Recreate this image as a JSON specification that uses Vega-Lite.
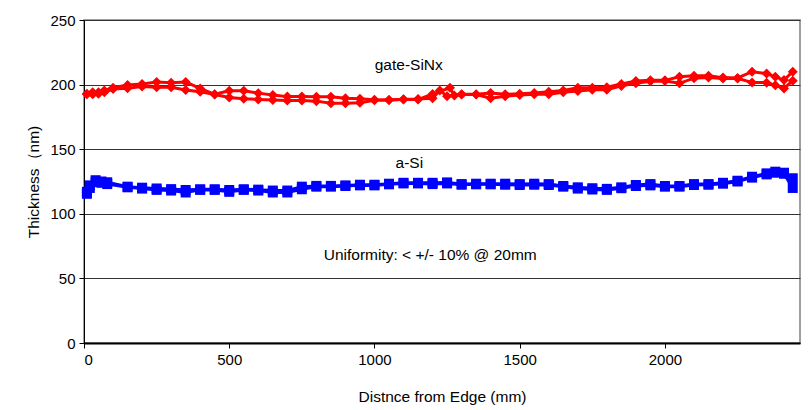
{
  "$schema": "https://vega.github.io/schema/vega-lite/v6.json",
  "width": 716,
  "height": 323,
  "autosize": "none",
  "padding": {"left": 84, "top": 20, "right": 11, "bottom": 67},
  "background": "white",
  "config": {
    "font": "Liberation Sans",
    "view": {"stroke": "#808080", "strokeWidth": 1.5},
    "axis": {"labelFont": "Liberation Sans", "titleFont": "Liberation Sans", "labelColor": "#000", "titleColor": "#000", "titleFontWeight": "normal", "labelFontSize": 15, "titleFontSize": 15.5, "domainColor": "#000", "tickColor": "#000"}
  },
  "datasets": {
    "pts": [
      {"x": 10, "y": 193, "s": "R1"}, {"x": 30, "y": 194, "s": "R1"}, {"x": 50, "y": 194, "s": "R1"}, {"x": 70, "y": 195.5, "s": "R1"}, {"x": 100, "y": 197.5, "s": "R1"},
      {"x": 150, "y": 199.7, "s": "R1"}, {"x": 200, "y": 200.5, "s": "R1"}, {"x": 250, "y": 202, "s": "R1"}, {"x": 300, "y": 201.5, "s": "R1"}, {"x": 350, "y": 202, "s": "R1"},
      {"x": 400, "y": 197, "s": "R1"}, {"x": 450, "y": 192.5, "s": "R1"}, {"x": 500, "y": 195.3, "s": "R1"}, {"x": 550, "y": 195.3, "s": "R1"}, {"x": 600, "y": 193.4, "s": "R1"},
      {"x": 650, "y": 192, "s": "R1"}, {"x": 700, "y": 190.7, "s": "R1"}, {"x": 750, "y": 190.7, "s": "R1"}, {"x": 800, "y": 190.5, "s": "R1"}, {"x": 850, "y": 190.5, "s": "R1"},
      {"x": 900, "y": 189.5, "s": "R1"}, {"x": 950, "y": 189, "s": "R1"}, {"x": 1000, "y": 188.2, "s": "R1"}, {"x": 1050, "y": 188, "s": "R1"}, {"x": 1100, "y": 188.6, "s": "R1"},
      {"x": 1150, "y": 188.8, "s": "R1"}, {"x": 1200, "y": 189.5, "s": "R1"}, {"x": 1225, "y": 195.5, "s": "R1"}, {"x": 1250, "y": 191, "s": "R1"}, {"x": 1300, "y": 192.5, "s": "R1"},
      {"x": 1350, "y": 192.5, "s": "R1"}, {"x": 1400, "y": 193.5, "s": "R1"}, {"x": 1450, "y": 192.5, "s": "R1"}, {"x": 1500, "y": 193, "s": "R1"}, {"x": 1550, "y": 193.5, "s": "R1"},
      {"x": 1600, "y": 194.5, "s": "R1"}, {"x": 1650, "y": 195.5, "s": "R1"}, {"x": 1700, "y": 197.6, "s": "R1"}, {"x": 1750, "y": 197.6, "s": "R1"}, {"x": 1800, "y": 198, "s": "R1"},
      {"x": 1850, "y": 200.5, "s": "R1"}, {"x": 1900, "y": 202.8, "s": "R1"}, {"x": 1950, "y": 203.3, "s": "R1"}, {"x": 2000, "y": 203.3, "s": "R1"}, {"x": 2050, "y": 206, "s": "R1"},
      {"x": 2100, "y": 206.8, "s": "R1"}, {"x": 2150, "y": 206.8, "s": "R1"}, {"x": 2200, "y": 205.4, "s": "R1"}, {"x": 2250, "y": 205.2, "s": "R1"}, {"x": 2300, "y": 210, "s": "R1"},
      {"x": 2350, "y": 208.5, "s": "R1"}, {"x": 2380, "y": 206, "s": "R1"}, {"x": 2410, "y": 203.5, "s": "R1"}, {"x": 2440, "y": 210, "s": "R1"},

      {"x": 10, "y": 192.5, "s": "R2"}, {"x": 30, "y": 192.5, "s": "R2"}, {"x": 50, "y": 193, "s": "R2"}, {"x": 70, "y": 194, "s": "R2"}, {"x": 100, "y": 196.5, "s": "R2"},
      {"x": 150, "y": 197.1, "s": "R2"}, {"x": 200, "y": 198.5, "s": "R2"}, {"x": 250, "y": 197.9, "s": "R2"}, {"x": 300, "y": 198, "s": "R2"}, {"x": 350, "y": 195.8, "s": "R2"},
      {"x": 400, "y": 194.5, "s": "R2"}, {"x": 450, "y": 192.4, "s": "R2"}, {"x": 500, "y": 190, "s": "R2"}, {"x": 550, "y": 189, "s": "R2"}, {"x": 600, "y": 188.5, "s": "R2"},
      {"x": 650, "y": 188, "s": "R2"}, {"x": 700, "y": 187.7, "s": "R2"}, {"x": 750, "y": 187.7, "s": "R2"}, {"x": 800, "y": 187.2, "s": "R2"}, {"x": 850, "y": 185.5, "s": "R2"},
      {"x": 900, "y": 185.5, "s": "R2"}, {"x": 950, "y": 186, "s": "R2"}, {"x": 1000, "y": 187.8, "s": "R2"}, {"x": 1050, "y": 188, "s": "R2"}, {"x": 1100, "y": 188.4, "s": "R2"},
      {"x": 1150, "y": 188.4, "s": "R2"}, {"x": 1200, "y": 192.7, "s": "R2"}, {"x": 1260, "y": 197.5, "s": "R2"}, {"x": 1275, "y": 191.5, "s": "R2"}, {"x": 1300, "y": 192.3, "s": "R2"},
      {"x": 1350, "y": 192.3, "s": "R2"}, {"x": 1400, "y": 189.4, "s": "R2"}, {"x": 1450, "y": 191, "s": "R2"}, {"x": 1500, "y": 192, "s": "R2"}, {"x": 1550, "y": 192.5, "s": "R2"},
      {"x": 1600, "y": 192.5, "s": "R2"}, {"x": 1650, "y": 194, "s": "R2"}, {"x": 1700, "y": 195, "s": "R2"}, {"x": 1750, "y": 196, "s": "R2"}, {"x": 1800, "y": 196, "s": "R2"},
      {"x": 1850, "y": 199, "s": "R2"}, {"x": 1900, "y": 201, "s": "R2"}, {"x": 1950, "y": 202.5, "s": "R2"}, {"x": 2000, "y": 202.8, "s": "R2"}, {"x": 2050, "y": 201, "s": "R2"},
      {"x": 2100, "y": 205, "s": "R2"}, {"x": 2150, "y": 205.4, "s": "R2"}, {"x": 2200, "y": 204.8, "s": "R2"}, {"x": 2250, "y": 204.8, "s": "R2"}, {"x": 2300, "y": 201.7, "s": "R2"},
      {"x": 2350, "y": 201.5, "s": "R2"}, {"x": 2380, "y": 199.5, "s": "R2"}, {"x": 2410, "y": 197, "s": "R2"}, {"x": 2440, "y": 203, "s": "R2"},

      {"x": 10, "y": 117, "s": "B1"}, {"x": 20, "y": 122, "s": "B1"}, {"x": 40, "y": 126, "s": "B1"}, {"x": 60, "y": 125, "s": "B1"}, {"x": 80, "y": 124.4, "s": "B1"},
      {"x": 150, "y": 121, "s": "B1"}, {"x": 200, "y": 120.2, "s": "B1"}, {"x": 250, "y": 119.6, "s": "B1"}, {"x": 300, "y": 119.1, "s": "B1"}, {"x": 350, "y": 118.4, "s": "B1"},
      {"x": 400, "y": 119, "s": "B1"}, {"x": 450, "y": 119, "s": "B1"}, {"x": 500, "y": 118.4, "s": "B1"}, {"x": 550, "y": 119, "s": "B1"}, {"x": 600, "y": 118.7, "s": "B1"},
      {"x": 650, "y": 118, "s": "B1"}, {"x": 700, "y": 118, "s": "B1"}, {"x": 750, "y": 121, "s": "B1"}, {"x": 800, "y": 121.6, "s": "B1"}, {"x": 850, "y": 121.6, "s": "B1"},
      {"x": 900, "y": 122, "s": "B1"}, {"x": 950, "y": 122.5, "s": "B1"}, {"x": 1000, "y": 122.5, "s": "B1"}, {"x": 1050, "y": 123.3, "s": "B1"}, {"x": 1100, "y": 124, "s": "B1"},
      {"x": 1150, "y": 124, "s": "B1"}, {"x": 1200, "y": 124, "s": "B1"}, {"x": 1250, "y": 124.3, "s": "B1"}, {"x": 1300, "y": 123, "s": "B1"}, {"x": 1350, "y": 123.3, "s": "B1"},
      {"x": 1400, "y": 123.3, "s": "B1"}, {"x": 1450, "y": 123.3, "s": "B1"}, {"x": 1500, "y": 123, "s": "B1"}, {"x": 1550, "y": 123.3, "s": "B1"}, {"x": 1600, "y": 123, "s": "B1"},
      {"x": 1650, "y": 121.5, "s": "B1"}, {"x": 1700, "y": 120.5, "s": "B1"}, {"x": 1750, "y": 119.8, "s": "B1"}, {"x": 1800, "y": 119.3, "s": "B1"}, {"x": 1850, "y": 120.5, "s": "B1"},
      {"x": 1900, "y": 122.3, "s": "B1"}, {"x": 1950, "y": 123, "s": "B1"}, {"x": 2000, "y": 121.5, "s": "B1"}, {"x": 2050, "y": 121.5, "s": "B1"}, {"x": 2100, "y": 123, "s": "B1"},
      {"x": 2150, "y": 123, "s": "B1"}, {"x": 2200, "y": 124, "s": "B1"}, {"x": 2250, "y": 125.6, "s": "B1"}, {"x": 2300, "y": 128.7, "s": "B1"}, {"x": 2350, "y": 131.3, "s": "B1"},
      {"x": 2380, "y": 132.6, "s": "B1"}, {"x": 2410, "y": 131.8, "s": "B1"}, {"x": 2440, "y": 127.5, "s": "B1"},

      {"x": 10, "y": 115.5, "s": "B2"}, {"x": 20, "y": 120, "s": "B2"}, {"x": 40, "y": 124.5, "s": "B2"}, {"x": 60, "y": 124, "s": "B2"}, {"x": 80, "y": 123, "s": "B2"},
      {"x": 150, "y": 120.5, "s": "B2"}, {"x": 200, "y": 119.5, "s": "B2"}, {"x": 250, "y": 118.5, "s": "B2"}, {"x": 300, "y": 118, "s": "B2"}, {"x": 350, "y": 116.5, "s": "B2"},
      {"x": 400, "y": 118.5, "s": "B2"}, {"x": 450, "y": 118.5, "s": "B2"}, {"x": 500, "y": 117, "s": "B2"}, {"x": 550, "y": 118.5, "s": "B2"}, {"x": 600, "y": 118, "s": "B2"},
      {"x": 650, "y": 116.5, "s": "B2"}, {"x": 700, "y": 116.5, "s": "B2"}, {"x": 750, "y": 119, "s": "B2"}, {"x": 800, "y": 121, "s": "B2"}, {"x": 850, "y": 121, "s": "B2"},
      {"x": 900, "y": 121.5, "s": "B2"}, {"x": 950, "y": 122, "s": "B2"}, {"x": 1000, "y": 122, "s": "B2"}, {"x": 1050, "y": 122.8, "s": "B2"}, {"x": 1100, "y": 123.5, "s": "B2"},
      {"x": 1150, "y": 123.5, "s": "B2"}, {"x": 1200, "y": 123, "s": "B2"}, {"x": 1250, "y": 123.5, "s": "B2"}, {"x": 1300, "y": 122.5, "s": "B2"}, {"x": 1350, "y": 122.8, "s": "B2"},
      {"x": 1400, "y": 122.8, "s": "B2"}, {"x": 1450, "y": 122.5, "s": "B2"}, {"x": 1500, "y": 122.3, "s": "B2"}, {"x": 1550, "y": 122.5, "s": "B2"}, {"x": 1600, "y": 122.3, "s": "B2"},
      {"x": 1650, "y": 121, "s": "B2"}, {"x": 1700, "y": 119.5, "s": "B2"}, {"x": 1750, "y": 118.8, "s": "B2"}, {"x": 1800, "y": 118.5, "s": "B2"}, {"x": 1850, "y": 119.8, "s": "B2"},
      {"x": 1900, "y": 121.5, "s": "B2"}, {"x": 1950, "y": 122, "s": "B2"}, {"x": 2000, "y": 121, "s": "B2"}, {"x": 2050, "y": 121, "s": "B2"}, {"x": 2100, "y": 122.3, "s": "B2"},
      {"x": 2150, "y": 122.5, "s": "B2"}, {"x": 2200, "y": 123.3, "s": "B2"}, {"x": 2250, "y": 125, "s": "B2"}, {"x": 2300, "y": 128, "s": "B2"}, {"x": 2350, "y": 130.5, "s": "B2"},
      {"x": 2380, "y": 131.8, "s": "B2"}, {"x": 2410, "y": 131, "s": "B2"}, {"x": 2440, "y": 120, "s": "B2"}
    ],
    "notes": [
      {"x": 1118, "y": 215, "label": "gate-SiNx"},
      {"x": 1120, "y": 139.5, "label": "a-Si"},
      {"x": 1192, "y": 68, "label": "Uniformity: < +/- 10% @ 20mm"}
    ]
  },
  "layer": [
    {
      "data": {"name": "pts"},
      "mark": {"type": "line", "strokeWidth": 3},
      "encoding": {
        "x": {"field": "x", "type": "quantitative", "scale": {"domain": [0, 2465], "nice": false, "zero": false},
              "axis": {"title": "Distnce from Edge (mm)", "values": [0, 500, 1000, 1500, 2000], "format": "d", "grid": false, "domainWidth": 2, "tickSize": 5, "labelPadding": 4, "titlePadding": 22}},
        "y": {"field": "y", "type": "quantitative", "scale": {"domain": [0, 250], "nice": false},
              "axis": {"title": "Thickness（nm)", "values": [0, 50, 100, 150, 200, 250], "grid": true, "gridColor": "#333", "gridWidth": 1, "gridOpacity": 1, "tickSize": 5, "labelPadding": 4, "titlePadding": 8}},
        "color": {"field": "s", "type": "nominal", "scale": {"domain": ["R1", "R2", "B1", "B2"], "range": ["#ff0000", "#ff0000", "#0000ff", "#0000ff"]}, "legend": null},
        "detail": {"field": "s"}
      }
    },
    {
      "data": {"name": "pts"},
      "mark": {"type": "point", "filled": true, "opacity": 1},
      "encoding": {
        "x": {"field": "x", "type": "quantitative"},
        "y": {"field": "y", "type": "quantitative"},
        "color": {"field": "s", "type": "nominal", "legend": null},
        "shape": {"field": "s", "type": "nominal", "scale": {"domain": ["R1", "R2", "B1", "B2"], "range": ["diamond", "diamond", "square", "square"]}, "legend": null},
        "size": {"field": "s", "type": "nominal", "scale": {"domain": ["R1", "R2", "B1", "B2"], "range": [100, 100, 80, 80]}, "legend": null}
      }
    },
    {
      "data": {"name": "notes"},
      "mark": {"type": "text", "fontSize": 15.5, "font": "Liberation Sans", "color": "#000", "align": "center", "baseline": "middle"},
      "encoding": {
        "x": {"field": "x", "type": "quantitative"},
        "y": {"field": "y", "type": "quantitative"},
        "text": {"field": "label"}
      }
    }
  ]
}
